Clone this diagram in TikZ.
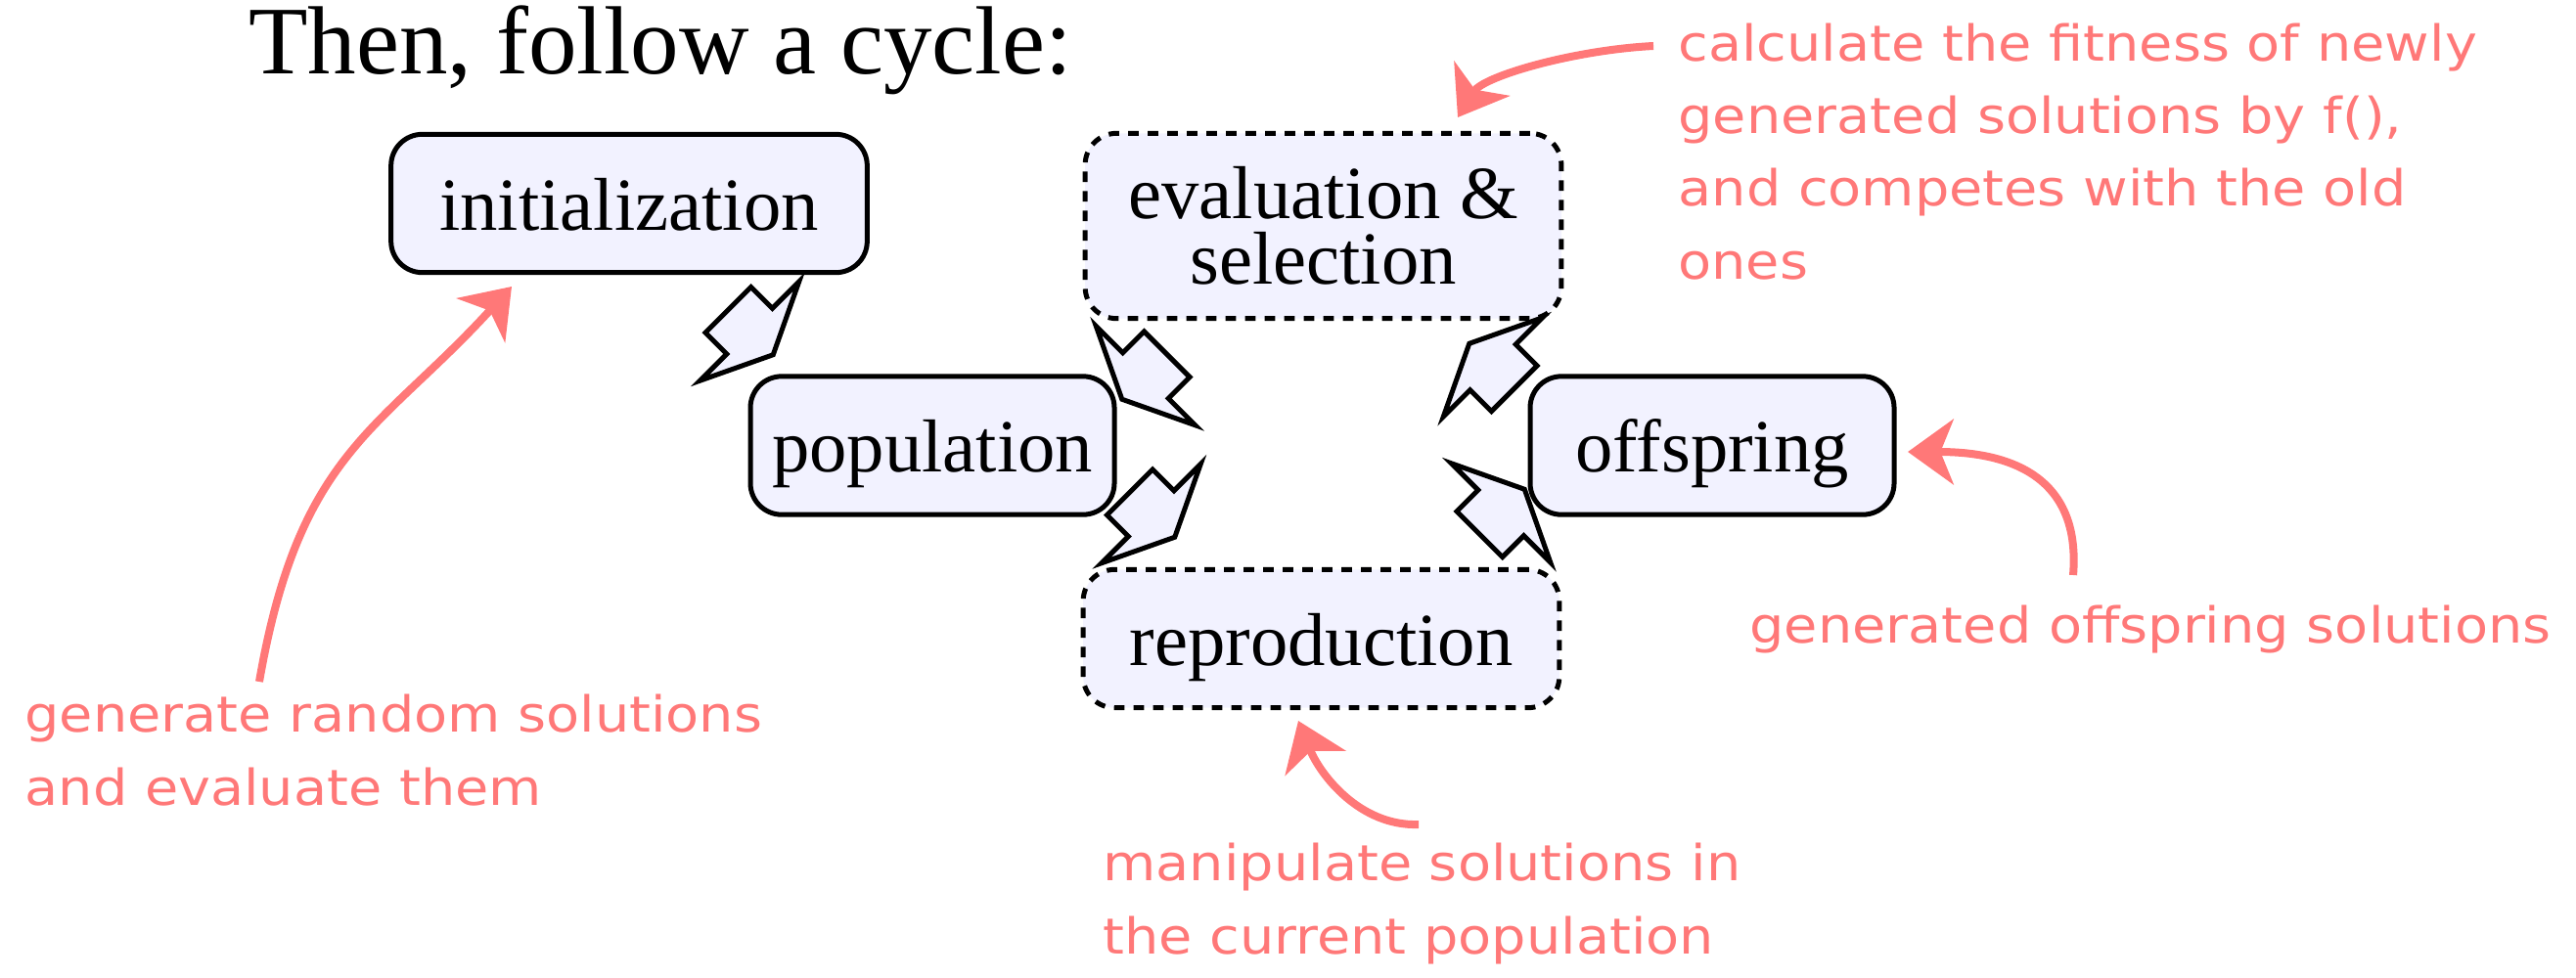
\documentclass[tikz,border=0pt]{standalone}
\usepackage{fontspec}
\setmainfont{Liberation Serif}
\newfontfamily\handfont[FakeStretch=1.1]{DejaVu Sans}
\usetikzlibrary{shapes.arrows,arrows.meta}

\definecolor{notered}{RGB}{255,120,120}

\tikzset{every picture/.style={line width=0.75pt}}
\tikzset{
  stage/.style={draw, fill=blue!5, rounded corners=4.8pt, inner sep=3pt,
    font=\fontsize{11.5}{10.05}\selectfont, minimum height=21.2pt},
  onestage/.style={text height=10.6pt, text depth=2.5pt},
  widestage/.style={minimum width=73pt},
  narrowstage/.style={minimum width=55.8pt},
  dashstage/.style={dash pattern=on 1.6pt off 1.4pt},
  fatarrow/.style={single arrow, draw, fill=blue!5, inner xsep=0pt, inner ysep=4.575pt,
    minimum height=9.75pt, minimum width=20.7pt,
    single arrow head extend=5.78pt, single arrow tip angle=129, anchor=tail},
  note/.style={text=notered, font=\handfont\fontsize{7.6}{11.15}\selectfont,
    align=left, inner sep=0pt, anchor=base west},
  notearrow/.style={draw=notered, line width=1.2pt,
    -{Stealth[length=7pt,width=10pt,inset=2pt]}}
}

\begin{document}
\begin{tikzpicture}[x=0.75pt,y=0.75pt,yscale=-1,xscale=1]
    \useasboundingbox (0,0) rectangle (526.6,199.8);

    % Title
    \node (title) [anchor=base west, inner sep=0pt, font=\fontsize{14.85}{17}\selectfont] at (50.4,15) {Then, follow a cycle:};

    % Stages of the cycle
    \node (init) [stage, onestage, widestage] at (128.6,41.6) {initialization};
    \node (pop) [stage, onestage, narrowstage] at (190.6,91.1) {population};
    \node (eval) [stage, widestage, dashstage, minimum height=28.4pt, align=center] at (270.5,46.2) {evaluation \&\\selection};
    \node (repr) [stage, onestage, widestage, dashstage] at (270.1,130.6) {reproduction};
    \node (offs) [stage, onestage, narrowstage] at (350,91.1) {offspring};

    % Fat arrows between stages
    \node (a1) [fatarrow, rotate=-45] at (148.5,63) {};
    \node (a2) [fatarrow, rotate=-135] at (238.9,72.1) {};
    \node (a3) [fatarrow, rotate=-45] at (230.6,100.3) {};
    \node (a4) [fatarrow, rotate=135] at (309.9,79.8) {};
    \node (a5) [fatarrow, rotate=45] at (302.1,109.6) {};

    % Notes (base is the last line)
    \node (n1) [note] at (342.6,57) {calculate the fitness of newly\\generated solutions by f(),\\and competes with the old\\ones};
    \node (n2) [note] at (4.6,164.6) {generate random solutions\\and evaluate them};
    \node (n3) [note] at (357.2,131.4) {generated offspring solutions};
    \node (n4) [note] at (225,195) {manipulate solutions in\\the current population};

    % Note arrows
    \coordinate (t1) at (338,9.4);
    \coordinate (h1) at (298,24);
    \coordinate (t2) at (53,139.4);
    \coordinate (h2) at (104.6,58.6);
    \coordinate (t3) at (423.8,117.6);
    \coordinate (h3) at (390,92.4);
    \coordinate (t4) at (290,168.6);
    \coordinate (h4) at (265.4,147.4);
    \draw [notearrow] (t1) .. controls (322,10.2) and (303.3,15.5) .. (h1);
    \draw [notearrow] (t2) .. controls (61.2,92.2) and (77.6,88.2) .. (h2);
    \draw [notearrow] (t3) .. controls (425.6,95.6) and (408,92.4) .. (h3);
    \draw [notearrow] (t4) .. controls (278,169) and (269.9,158.5) .. (h4);
\end{tikzpicture}
\end{document}
